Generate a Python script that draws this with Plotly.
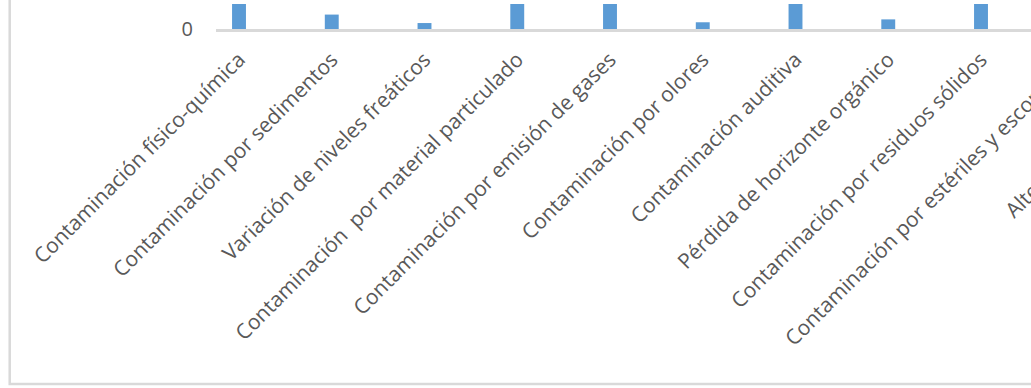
import plotly.graph_objects as go

categories = [
    "Contaminación físico-química",
    "Contaminación por sedimentos",
    "Variación de niveles freáticos",
    "Contaminación  por material particulado",
    "Contaminación por emisión de gases",
    "Contaminación por olores",
    "Contaminación auditiva",
    "Pérdida de horizonte orgánico",
    "Contaminación por residuos sólidos",
    "Contaminación por estériles y escombros",
    "Alteración de acuíferos",
]
values = [4, 1.5, 0.62, 4, 4, 0.7, 4, 1.0, 4, 4, 4]
y_tick_values = [0]
y_tick_labels = ["0"]

W, H = 1031, 388
ML, MT, MB = 216, 4, 359
plot_w = W - ML
plot_h = H - MT - MB
x_range = [-0.248, -0.248 + plot_w / 92.75]
y_range = [0, 2.6]

FONT = "Open Sans"
TXT = "#595959"
FS = 21

fig = go.Figure(go.Bar(
    x=list(range(len(categories))), y=values,
    marker=dict(color="#5b9bd5", line=dict(width=0)),
    width=0.15,
))

fig.update_layout(
    width=W, height=H,
    margin=dict(l=ML, r=0, t=MT, b=MB, pad=0),
    paper_bgcolor="white", plot_bgcolor="white",
    showlegend=False,
    font=dict(family=FONT, color=TXT, size=FS),
)

fig.update_xaxes(
    range=x_range, automargin=False,
    tickmode="array", tickvals=list(range(len(categories))), ticktext=categories,
    tickangle=-45, showgrid=False, zeroline=False,
    showline=True, linecolor="#d9d9d9", linewidth=3,
    ticks="", ticklabelstandoff=7,
    tickfont=dict(family=FONT, size=FS, color=TXT),
)
fig.update_yaxes(
    range=y_range, automargin=False,
    tickmode="array", tickvals=y_tick_values, ticktext=y_tick_labels,
    showgrid=False, zeroline=False, showline=False, ticks="",
    ticklabelstandoff=22,
    tickfont=dict(family=FONT, size=20, color=TXT),
)

# labels of categories lying beyond the right edge of the visible plot area
def px_to_paper_x(px):
    return (px - ML) / plot_w

def px_to_paper_y(py):
    return (MT + plot_h - py) / plot_h

xspan = x_range[1] - x_range[0]
for i, name in enumerate(categories):
    if i <= x_range[1]:
        continue
    tick_px = ML + (i - x_range[0]) / xspan * plot_w
    fig.add_annotation(
        text=name, textangle=-45, showarrow=False,
        xref="paper", yref="paper",
        x=px_to_paper_x(tick_px + 14), y=px_to_paper_y(MT + plot_h + 13),
        xanchor="right", yanchor="top",
        font=dict(family=FONT, size=FS, color=TXT),
    )

# chart frame
fig.add_shape(
    type="rect", xref="paper", yref="paper",
    x0=px_to_paper_x(9.7), x1=px_to_paper_x(W + 200),
    y0=px_to_paper_y(384), y1=px_to_paper_y(-50),
    line=dict(color="#d9d9d9", width=2.5), fillcolor="rgba(0,0,0,0)",
    layer="below",
)

fig.write_html(
    "out.html",
    config={"displayModeBar": False},
    post_script="document.body.style.margin='0';",
)
